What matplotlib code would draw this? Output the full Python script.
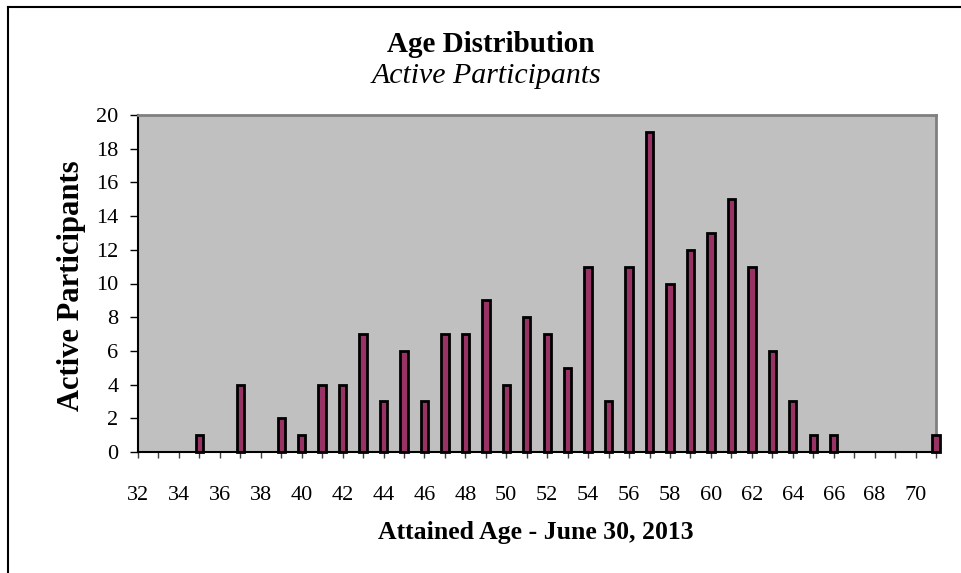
import matplotlib
matplotlib.use("Agg")
import matplotlib.pyplot as plt
from matplotlib.lines import Line2D

ages = list(range(32, 72))
counts = [0, 0, 0, 1, 0, 4, 0, 2, 1, 4,
          4, 7, 3, 6, 3, 7, 7, 9, 4, 8,
          7, 5, 11, 3, 11, 19, 10, 12, 13, 15,
          11, 6, 3, 1, 1, 0, 0, 0, 0, 1]
x_labels = [str(a) if a % 2 == 0 else "" for a in ages]
y_ticks = list(range(0, 21, 2))

title = "Age Distribution"
subtitle = "Active Participants"
xlabel = "Attained Age - June 30, 2013"
ylabel = "Active Participants"

plt.rcParams['font.family'] = ['Liberation Serif', 'DejaVu Serif']

W, H = 961, 573
fig = plt.figure(figsize=(W / 100, H / 100), dpi=100)
ax = fig.add_axes([138 / W, 1 - 452 / H, (936 - 138) / W, (452 - 115) / H])
ax.set_facecolor('#C0C0C0')

bars = ax.bar(ages, counts, width=0.36, color='#993366', edgecolor='black',
              linewidth=2.0, zorder=3)
for b, c in zip(bars, counts):
    b.set_clip_on(False)
    if c == 0:
        b.set_visible(False)

ax.set_xlim(32, 71)
ax.set_ylim(0, 20)
ax.set_xticks(ages)
ax.set_xticklabels(x_labels, fontsize=16)
ax.set_yticks(y_ticks)
ax.set_yticklabels([str(v) for v in y_ticks], fontsize=16)
ax.tick_params(axis='x', direction='out', length=4.5, width=1, color='#404040', pad=20)
ax.tick_params(axis='y', direction='out', length=6, width=1, color='black', pad=8)

for s in ['top', 'right']:
    ax.spines[s].set_color('#808080')
    ax.spines[s].set_linewidth(2)
for s in ['left', 'bottom']:
    ax.spines[s].set_color('black')
    ax.spines[s].set_linewidth(1.5)
ax.spines['bottom'].set_zorder(4)

fig.text(491 / W, 1 - 45 / H, title, ha='center', va='center', fontsize=21,
         fontweight='bold')
fig.text(487 / W, 1 - 76 / H, subtitle, ha='center', va='center', fontsize=21.5,
         fontstyle='italic')
fig.text(536 / W, 1 - 532 / H, xlabel, ha='center', va='center', fontsize=18.5,
         fontweight='bold')
fig.text(72 / W, 1 - 286 / H, ylabel, ha='center', va='center', fontsize=22,
         fontweight='bold', rotation=90)

# outer chart border (top and left visible)
fig.add_artist(Line2D([8 / W, 8 / W], [0, 1 - 7 / H], transform=fig.transFigure,
                      color='black', linewidth=1.5))
fig.add_artist(Line2D([8 / W, 1], [1 - 7 / H, 1 - 7 / H], transform=fig.transFigure,
                      color='black', linewidth=1.5))

fig.savefig('out.png', dpi=100)
